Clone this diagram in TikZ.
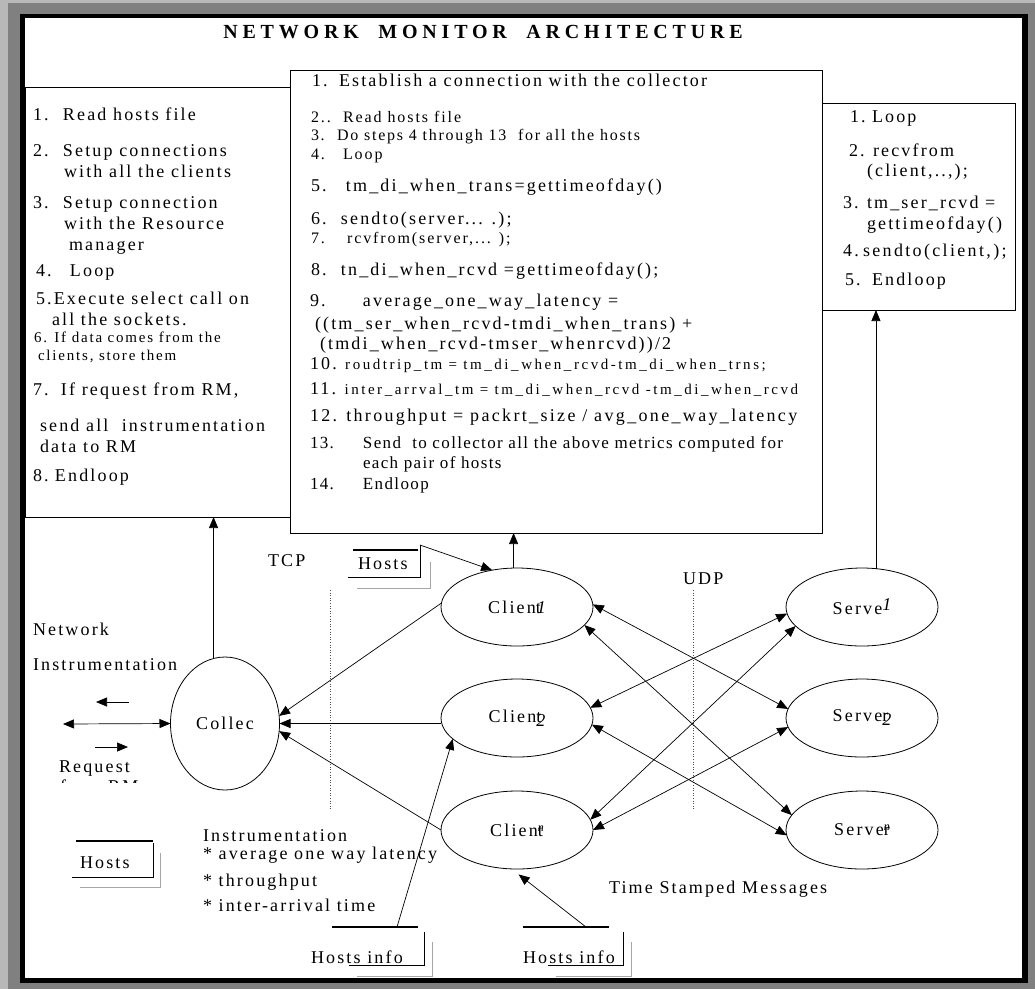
\documentclass[tikz,border=0pt]{standalone}
\usepackage{fontspec}
\setmainfont{Liberation Serif}
\usetikzlibrary{shapes.geometric,arrows.meta}

\newcommand\sz[1]{\fontsize{#1}{#1}\selectfont}
\newcommand\itm[2]{\makebox[#1][l]{#2}}

\tikzset{
  lbl/.style 2 args={anchor=base west, inner sep=0pt, outer sep=0pt,
    font=\addfontfeatures{LetterSpace=#2}\sz{#1}},
  txt/.style={lbl={18}{12}},
  stxt/.style={lbl={16}{12}},
  panel/.style={draw, line width=0.8pt, fill=white, anchor=north west,
    inner sep=0pt, outer sep=0pt},
  ell/.style={ellipse, draw, line width=0.8pt, minimum width=152pt,
    minimum height=78pt, inner sep=0pt, outer sep=0pt,
    font=\addfontfeatures{LetterSpace=12}\sz{18}},
  bigtri/.tip={Triangle[length=11pt,width=9pt]},
  conn/.style={line width=0.7pt, -bigtri},
  dconn/.style={line width=0.7pt, bigtri-bigtri},
  dotline/.style={line width=0.6pt, dotted, draw=black!70},
  storetop/.style={line width=1.8pt},
  storeedge/.style={line width=0.9pt},
  storeshade/.style={line width=1pt, draw=black!35},
}

\begin{document}
\begin{tikzpicture}[x=1pt, y=-1pt]
\useasboundingbox (0,0) rectangle (1035,989);

% bevelled outer frame
\fill[black!50] (0,0) rectangle (1035,989);
\fill[black!28] (0,0) rectangle (8,989);
\fill[black!28] (0,0) rectangle (1035,3);
\fill[black] (20,14) rectangle (1028,983);
\fill[white] (25,18) rectangle (1022,978);

% title
\node[anchor=base, inner sep=0pt, font=\bfseries\addfontfeatures{LetterSpace=24}\sz{20}]
  (title) at (483,38) {NETWORK\ \ MONITOR\ \ ARCHITECTURE};

% the three program panels
\node[panel, minimum width=265pt, minimum height=430pt] (leftbox) at (25,87) {};
\node[panel, minimum width=532pt, minimum height=463pt] (midbox) at (290,70) {};
\node[panel, minimum width=193pt, minimum height=207pt] (rightbox) at (822,103) {};

% collector program
\node[txt] (l1) at (33,120) {\itm{30pt}{1.}Read hosts file};
\node[txt] (l2) at (33,156) {\itm{30pt}{2.}Setup connections};
\node[txt] (l3) at (64,177) {with all the clients};
\node[txt] (l4) at (33,208) {\itm{30pt}{3.}Setup connection};
\node[txt] (l5) at (64,229) {with the Resource};
\node[txt] (l6) at (69,250) {manager};
\node[txt] (l7) at (36,276) {\itm{34pt}{4.}Loop};
\node[txt] (l8) at (36,304) {5.Execute select call on};
\node[txt] (l9) at (52,325) {all the sockets.};
\node[lbl={15}{12}] (l10) at (34,342) {6. If data comes from the};
\node[lbl={15}{12}] (l11) at (38,360) {clients, store them};
\node[txt] (l12) at (33,395) {\itm{28pt}{7.}If request from RM,};
\node[txt] (l13) at (40,431) {send all\ \ instrumentation};
\node[txt] (l14) at (40,452) {data to RM};
\node[txt] (l15) at (33,481) {\itm{22pt}{8.}Endloop};

% client program
\node[txt] (m1) at (312,86) {\itm{27pt}{1.}Establish a connection with the collector};
\node[stxt] (m2) at (311,122) {\itm{32pt}{2..}Read hosts file};
\node[lbl={16}{11}] (m3) at (311,140) {\itm{26pt}{3.}Do steps 4 through 13\ \ for all the hosts};
\node[stxt] (m4) at (311,159) {\itm{32pt}{4.}Loop};
\node[txt] (m5) at (311,191) {\itm{35pt}{5.}tm\_di\_when\_trans=gettimeofday()};
\node[txt] (m6) at (311,224) {\itm{30pt}{6.}sendto(server... .);};
\node[stxt] (m7) at (311,243) {\itm{36pt}{7.}rcvfrom(server,... );};
\node[txt] (m8) at (311,275) {\itm{30pt}{8.}tn\_di\_when\_rcvd =gettimeofday();};
\node[txt] (m9) at (310,306) {\itm{53pt}{9.}average\_one\_way\_latency =};
\node[txt] (m10) at (315,329) {((tm\_ser\_when\_rcvd-tmdi\_when\_trans) +};
\node[txt] (m11) at (320,349) {(tmdi\_when\_rcvd-tmser\_whenrcvd))/2};
\node[txt] (m12) at (310,369) {10.{\addfontfeatures{LetterSpace=17}\sz{15} roudtrip\_tm = tm\_di\_when\_rcvd-tm\_di\_when\_trns;}};
\node[txt] (m13) at (310,394) {11.{\addfontfeatures{LetterSpace=17}\sz{15} inter\_arrval\_tm = tm\_di\_when\_rcvd -tm\_di\_when\_rcvd}};
\node[lbl={18}{13}] (m14) at (310,421) {12. throughput = packrt\_size / avg\_one\_way\_latency};
\node[lbl={17}{8}] (m15) at (310,448) {\itm{53pt}{13.}Send\ \ to collector all the above metrics computed for};
\node[lbl={17}{8}] (m16) at (363,468) {each pair of hosts};
\node[lbl={17}{8}] (m17) at (310,489) {\itm{53pt}{14.}Endloop};

% server program
\node[txt] (r1) at (850,122) {\itm{22pt}{1.}Loop};
\node[txt] (r2) at (849,156) {\itm{24pt}{2.}recvfrom};
\node[txt] (r3) at (867,176) {(client,..,);};
\node[txt] (r4) at (843,208) {\itm{24pt}{3.}tm\_ser\_rcvd =};
\node[txt] (r5) at (867,229) {gettimeofday()};
\node[lbl={18}{13}] (r6) at (843,256) {\itm{20pt}{4.}sendto(client,);};
\node[txt] (r7) at (845,285) {\itm{27pt}{5.}Endloop};

% processes
\node[ell, minimum width=109pt, minimum height=133pt] (collec) at (225,723.5) {Collec};
\node[ell] (c1) at (517,607) {Clien\rlap{t}\kern1pt{\itshape 1}};
\node[ell] (c2) at (517,718) {Clien\rlap{t}\raisebox{-4pt}{\itshape 2}};
\node[ell] (cn) at (517,830) {Clien\rlap{t}\raisebox{5pt}{\sz{12}\itshape n}};
\node[ell] (s1) at (862,607) {Serve\raisebox{4pt}{\itshape 1}};
\node[ell] (s2) at (862,718) {Serve\rlap{r}\raisebox{-4pt}{\itshape 2}};
\node[ell] (sn) at (862,830) {Serve\rlap{r}\raisebox{5pt}{\sz{12}\itshape n}};

% free labels
\node[txt] (tcp) at (268,566) {TCP};
\node[txt] (udp) at (683,584) {UDP};
\node[txt] (netw) at (33,635) {Network};
\node[txt] (instr) at (33,670) {Instrumentation};
\node[txt] (req) at (59,772) {Request};
\begin{scope}
  \clip (50,775) rectangle (170,782);
  \node[txt] (reqrm) at (60,792) {from RM};
\end{scope}
\node[txt] (ins1) at (203,841) {Instrumentation};
\node[txt] (ins2) at (203,859) {* average one way latency};
\node[txt] (ins3) at (203,886) {* throughput};
\node[txt] (ins4) at (203,911) {* inter-arrival time};
\node[txt] (tsm) at (609,893) {Time Stamped Messages};

% data stores
\node[txt] (hostsA) at (358,569) {Hosts};
\draw[storetop] (353,550) -- (418,550);
\draw[storeedge] (348,577) -- (420,577) -- (420,545);
\draw[storeshade] (357,588) -- (430,588) -- (430,562);
\coordinate (hostsAcorner) at (420,545);

\node[txt] (hostsB) at (80,868) {Hosts};
\draw[storetop] (76,841) -- (153,841);
\draw[storeedge] (72,877) -- (153,877) -- (153,843);
\draw[storeshade] (80,887) -- (160,887) -- (160,853);

\node[txt] (info1) at (311,963) {Hosts info};
\draw[storetop] (332,927) -- (418,927);
\draw[storeedge] (349,965) -- (424,965) -- (424,932);
\draw[storeshade] (357,976) -- (432,976) -- (432,942);
\coordinate (hi1top) at (397,927);

\node[txt] (info2) at (523,963) {Hosts info};
\draw[storetop] (523,927) -- (609,927);
\draw[storeedge] (548,965) -- (623,965) -- (623,932);
\draw[storeshade] (556,976) -- (631,976) -- (631,942);
\coordinate (hi2top) at (586,927);

% protocol boundaries
\draw[dotline] (330,590) -- (330,810);
\draw[dotline] (693,590) -- (693,810);

% flows to the program panels
\draw[conn] (collec.100) -- (collec.100 |- leftbox.south);
\draw[conn] (c1.95) -- (c1.95 |- midbox.south);
\draw[conn] (s1.70) -- (s1.70 |- rightbox.south);

% instrumentation to the collector
\draw[conn] (c1.177) -- (collec.8);
\draw[conn] (c2.west |- collec.east) -- (collec.east);
\draw[conn] (cn.west) -- (collec.-8);

% time stamped messages
\draw[dconn] (c1.2) -- (s2.173);
\draw[dconn] (c1.-15) -- (sn.168);
\draw[dconn] (c2.8) -- (s1.185);
\draw[dconn] (c2.-5) -- (sn.184);
\draw[dconn] (cn.8) -- (s1.196);
\draw[dconn] (cn.0) -- (s2.187);

% host lists
\draw[conn] (hostsAcorner) -- (c1.124);
\draw[conn] (hi1top) -- (c2.198);
\draw[conn, shorten >=9pt] (hi2top) -- (cn.262);

% request / instrumentation exchange
\coordinate (nwL1) at (129,702);
\coordinate (nwL2) at (96,702);
\draw[conn] (nwL1) -- (nwL2);
\coordinate (reqEnd) at (63,724);
\draw[dconn] (reqEnd) -- (collec.west);
\coordinate (nwR1) at (95,747);
\coordinate (nwR2) at (128,747);
\draw[conn] (nwR1) -- (nwR2);
\end{tikzpicture}
\end{document}
